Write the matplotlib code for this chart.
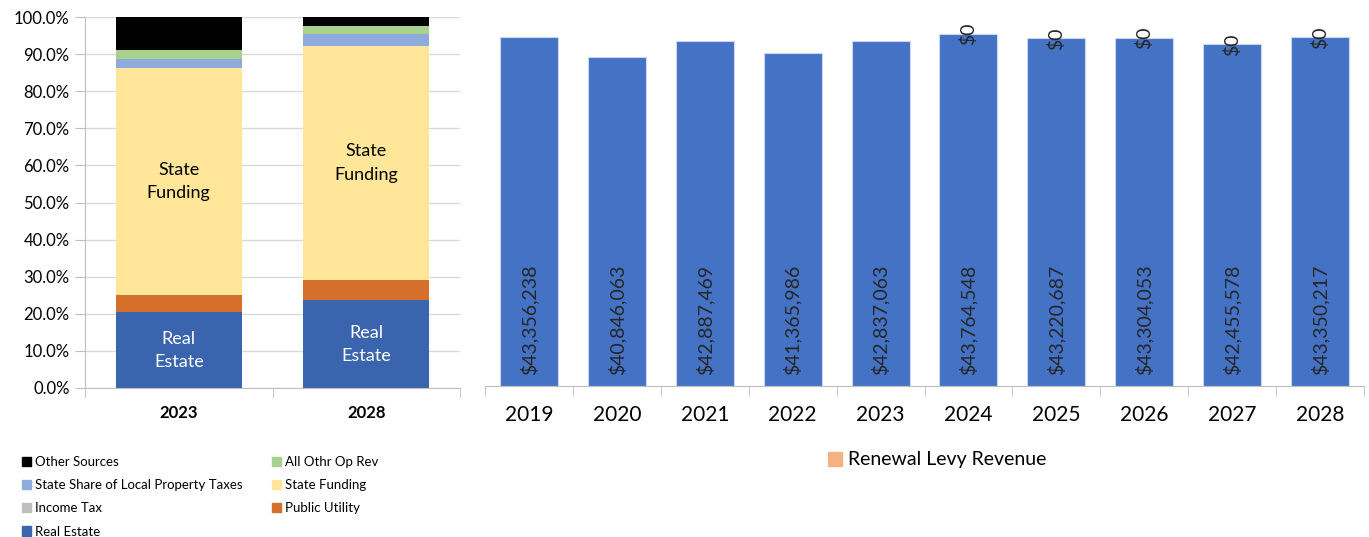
import matplotlib.pyplot as plt
import numpy as np
from matplotlib.patches import Patch
from matplotlib.ticker import PercentFormatter

plt.rcParams["font.family"] = ["Lato", "DejaVu Sans"]

# left chart: revenue mix (share of total, %)
mix_years = ["2023", "2028"]
real_estate = [20.4, 23.6]
public_utility = [4.8, 5.5]
income_tax = [0.0, 0.0]
state_funding = [61.1, 63.1]
state_share = [2.5, 3.2]
all_othr = [2.4, 2.2]
other_sources = [8.8, 2.4]

# right chart: total revenue by year
years = ["2019", "2020", "2021", "2022", "2023", "2024", "2025", "2026", "2027", "2028"]
revenue = [43356238, 40846063, 42887469, 41365986, 42837063,
           43764548, 43220687, 43304053, 42455578, 43350217]
renewal_levy = [None, None, None, None, None, 0, 0, 0, 0, 0]

fig = plt.figure(figsize=(13.69, 5.37), dpi=100)

# ---- left stacked 100% chart
ax = fig.add_axes([85 / 1369, 1 - 388 / 537, 375 / 1369, 371 / 537])
series = [
    ("Real Estate", real_estate, "#3A64AD"),
    ("Public Utility", public_utility, "#D46F2C"),
    ("Income Tax", income_tax, "#BFBFBF"),
    ("State Funding", state_funding, "#FFE699"),
    ("State Share of Local Property Taxes", state_share, "#8FAADC"),
    ("All Othr Op Rev", all_othr, "#A9D18E"),
    ("Other Sources", other_sources, "#000000"),
]
x = np.arange(len(mix_years))
bottom = np.zeros(len(mix_years))
handles = {}
for name, vals, col in series:
    vals = np.array(vals)
    ax.bar(x, vals, 0.67, bottom=bottom, color=col, zorder=2)
    handles[name] = Patch(color=col, label=name)
    if name == "Real Estate":
        for xi, b, v in zip(x, bottom, vals):
            ax.text(xi, b + v / 2, "Real\nEstate", ha="center", va="center",
                    color="white", fontsize=13, linespacing=1.55)
    if name == "State Funding":
        for xi, b, v in zip(x, bottom, vals):
            ax.text(xi, b + v / 2, "State\nFunding", ha="center", va="center",
                    color="black", fontsize=13, linespacing=1.55)
    bottom += vals

ax.set_xlim(-0.5, 1.5)
ax.set_ylim(0, 100)
ax.set_yticks(np.arange(0, 101, 10))
ax.yaxis.set_major_formatter(PercentFormatter(decimals=1))
ax.set_xticks(x)
ax.set_xticklabels(mix_years, fontsize=12, fontweight="bold")
ax.set_xticks([-0.5, 0.5, 1.5], minor=True)
ax.tick_params(axis="x", which="major", length=0, pad=12)
ax.tick_params(axis="x", which="minor", length=7, color="#BFBFBF")
ax.tick_params(axis="y", length=7, color="#BFBFBF", labelsize=12, pad=4)
ax.grid(axis="y", color="#D9D9D9", linewidth=1, zorder=0)
for s in ["top", "right"]:
    ax.spines[s].set_visible(False)
for s in ["left", "bottom"]:
    ax.spines[s].set_color("#BFBFBF")

order = ["Other Sources", "State Share of Local Property Taxes", "Income Tax", "Real Estate",
         "All Othr Op Rev", "State Funding", "Public Utility"]
fig.legend(handles=[handles[n] for n in order], ncol=2, loc="upper left",
           bbox_to_anchor=(10 / 1369, 1 - 444 / 537), frameon=False, fontsize=9.5,
           handlelength=0.7, handleheight=0.7, handletextpad=0.3,
           columnspacing=2.2, labelspacing=0.85)

# ---- right revenue chart
ax2 = fig.add_axes([485 / 1369, 1 - 386 / 537, 879 / 1369, 362 / 537])
xr = np.arange(len(years))
bars = ax2.bar(xr, revenue, 0.66, color="#4472C4", edgecolor="#C9D6EE", linewidth=0.8, zorder=2)
for b, v in zip(bars, revenue):
    ax2.text(b.get_x() + b.get_width() / 2, 1.4e6, f"${v:,.0f}", rotation=90,
             ha="center", va="bottom", fontsize=14, color="#262626")
for xi, v, lv in zip(xr, revenue, renewal_levy):
    if lv is None:
        continue
    ax2.bar(xi, lv, 0.66, bottom=v, color="#F4B183")
    ax2.text(xi, v + lv, f"${lv:,.0f}", rotation=90, ha="center", va="center",
             fontsize=14, color="#262626")

ax2.set_xlim(-0.5, len(years) - 0.5)
ax2.set_ylim(0, 45e6)
ax2.set_yticks([])
ax2.set_xticks(xr)
ax2.set_xticklabels(years, fontsize=15)
ax2.set_xticks(np.arange(-0.5, len(years), 1), minor=True)
ax2.tick_params(axis="x", which="major", length=0, pad=14)
ax2.tick_params(axis="x", which="minor", length=7, color="#BFBFBF")
for s in ["top", "right", "left"]:
    ax2.spines[s].set_visible(False)
ax2.spines["bottom"].set_color("#BFBFBF")

fig.legend(handles=[Patch(color="#F4B183", label="Renewal Levy Revenue")], loc="center",
           bbox_to_anchor=(937 / 1369, 1 - 460 / 537), frameon=False, fontsize=14,
           handlelength=0.7, handleheight=0.7, handletextpad=0.3)

fig.savefig("out.png", dpi=100)
